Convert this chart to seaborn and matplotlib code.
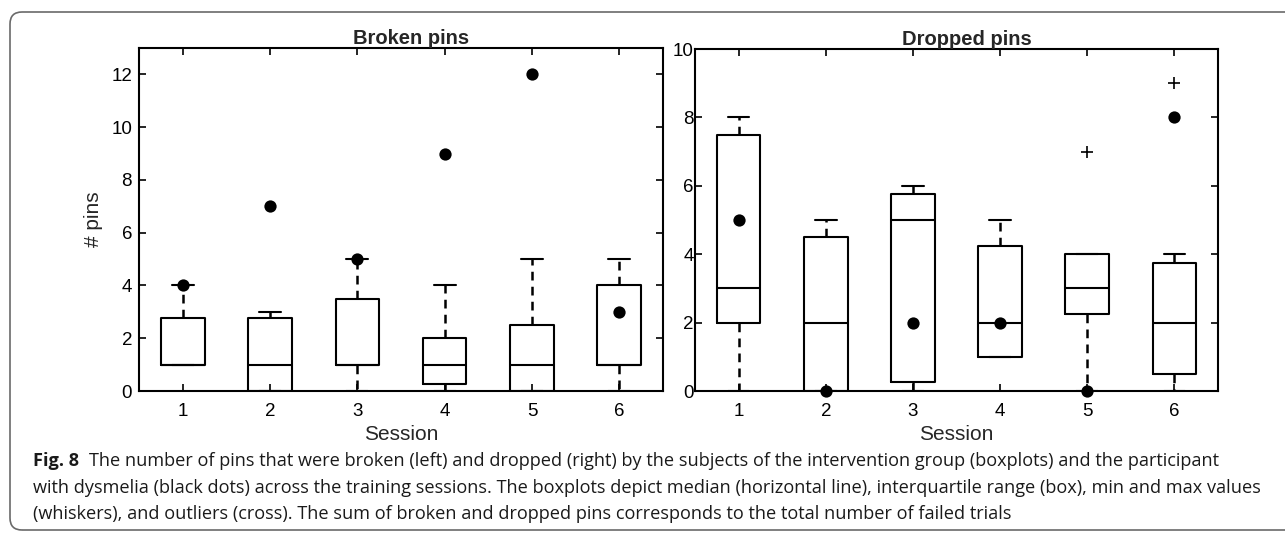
import matplotlib
matplotlib.use("Agg")
import matplotlib.pyplot as plt
import seaborn as sns
import pandas as pd
from matplotlib.patches import FancyBboxPatch
from matplotlib.transforms import IdentityTransform

# ---------------- data ----------------
sessions = [1, 2, 3, 4, 5, 6]

# Broken pins (left)
broken_lo = [1, 0, 0, 0, 0, 0]
broken_q1 = [1, 0, 1, 0.25, 0, 1]
broken_med = [1, 1, 1, 1, 1, 1]
broken_q3 = [2.75, 2.75, 3.5, 2, 2.5, 4]
broken_hi = [4, 3, 5, 4, 5, 5]
broken_out = [[], [], [], [], [], []]
broken_dys = [4, 7, 5, 9, 12, 3]

# Dropped pins (right)
dropped_lo = [0, 0, 0, 1, 0, 0]
dropped_q1 = [2, 0, 0.25, 1, 2.25, 0.5]
dropped_med = [3, 2, 5, 2, 3, 2]
dropped_q3 = [7.5, 4.5, 5.75, 4.25, 4, 3.75]
dropped_hi = [8, 5, 6, 5, 4, 4]
dropped_out = [[], [], [], [], [7], [9]]
dropped_dys = [5, 0, 2, 2, 0, 8]

titles = ["Broken pins", "Dropped pins"]
fig_label = "Fig. 8"
caption_lines = [
    "The number of pins that were broken (left) and dropped (right) by the subjects of the intervention group (boxplots) and the participant",
    "with dysmelia (black dots) across the training sessions. The boxplots depict median (horizontal line), interquartile range (box), min and max values",
    "(whiskers), and outliers (cross). The sum of broken and dropped pins corresponds to the total number of failed trials",
]

# ---------------- style ----------------
sns.set_style("ticks")
plt.rcParams["font.family"] = ["Liberation Sans", "DejaVu Sans"]

W, H = 1285, 533
fig = plt.figure(figsize=(W / 100, H / 100), dpi=100)

ax1 = fig.add_axes([139 / W, 1 - 391 / H, 524 / W, 343 / H])
ax2 = fig.add_axes([695 / W, 1 - 391 / H, 523 / W, 342 / H])


def stats(lo, q1, med, q3, hi, out):
    return [dict(whislo=a, q1=b, med=c, q3=d, whishi=e, fliers=f)
            for a, b, c, d, e, f in zip(lo, q1, med, q3, hi, out)]


def draw(ax, st, dys, ymax, yticks, title, ypad):
    ax.bxp(st, positions=sessions, widths=0.5, capwidths=0.25,
           showfliers=True, patch_artist=False,
           boxprops=dict(color="black", linewidth=1.5),
           medianprops=dict(color="black", linewidth=1.5),
           whiskerprops=dict(color="black", linewidth=1.8, linestyle=(0, (3.5, 2.5))),
           capprops=dict(color="black", linewidth=1.5),
           flierprops=dict(marker="+", markeredgecolor="black", markersize=9,
                           markeredgewidth=1.2, linestyle="none"))
    df = pd.DataFrame({"session": sessions, "value": dys})
    sns.scatterplot(data=df, x="session", y="value", ax=ax, color="black",
                    s=78, edgecolor="black", linewidth=0, zorder=5, clip_on=False)
    ax.set_xlim(0.5, 6.5)
    ax.set_ylim(0, ymax)
    ax.set_xticks(sessions)
    ax.set_xticklabels([str(s) for s in sessions])
    ax.set_yticks(yticks)
    ax.set_yticklabels([str(t) for t in yticks])
    ax.tick_params(direction="in", top=True, right=True, length=5, width=1.2,
                   labelsize=13.5, color="black", labelcolor="black")
    ax.tick_params(axis="x", pad=9)
    ax.tick_params(axis="y", pad=ypad)
    for sp in ax.spines.values():
        sp.set_visible(True)
        sp.set_linewidth(1.5)
        sp.set_color("black")
    ax.set_title(title, fontsize=14.5, fontweight="bold", pad=3, x=0.52)
    ax.set_xlabel("Session", fontsize=15, labelpad=3)
    ax.set_ylabel("")


draw(ax1, stats(broken_lo, broken_q1, broken_med, broken_q3, broken_hi, broken_out),
     broken_dys, 13, [0, 2, 4, 6, 8, 10, 12], titles[0], 5)
draw(ax2, stats(dropped_lo, dropped_q1, dropped_med, dropped_q3, dropped_hi, dropped_out),
     dropped_dys, 10, [0, 2, 4, 6, 8, 10], titles[1], 1)

ax1.set_ylabel("# pins", fontsize=15)
ax1.yaxis.set_label_coords(-0.068, 0.5)

# outer rounded frame
frame = FancyBboxPatch((10, 3), 1300, 518, boxstyle="round,pad=0,rounding_size=12",
                       transform=IdentityTransform(), fill=False,
                       edgecolor="#6a6a6a", linewidth=1.2)
fig.add_artist(frame)

# caption
cap_font = ["Open Sans", "DejaVu Sans"]
renderer = fig.canvas.get_renderer()
probe = fig.text(0, 0, caption_lines[1], fontsize=14, family=cap_font)
wpx = probe.get_window_extent(renderer).width
probe.remove()
cap_size = 14 * 1232 / wpx

lab = fig.text(33 / W, 1 - 461 / H, fig_label, fontsize=cap_size, fontweight="bold",
               family=cap_font, va="center", color="#1a1a1a")
lab_w = lab.get_window_extent(renderer).width
fig.text((33 + lab_w + 10) / W, 1 - 461 / H, caption_lines[0], fontsize=cap_size,
         family=cap_font, va="center", color="#1a1a1a")
fig.text(33 / W, 1 - 488 / H, caption_lines[1], fontsize=cap_size, family=cap_font,
         va="center", color="#1a1a1a")
fig.text(33 / W, 1 - 514 / H, caption_lines[2], fontsize=cap_size, family=cap_font,
         va="center", color="#1a1a1a")

fig.savefig("out.png", dpi=100)
